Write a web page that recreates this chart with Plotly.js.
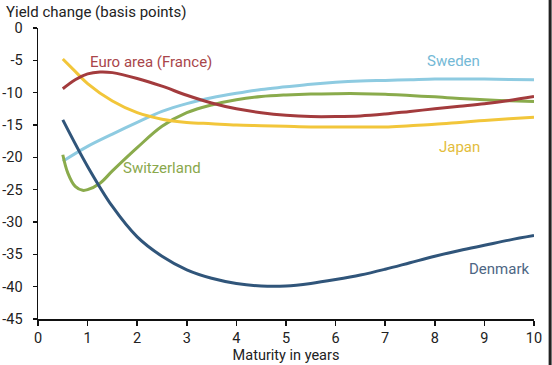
<!DOCTYPE html>
<html>
<head>
<meta charset="utf-8">
<script src="https://cdn.plot.ly/plotly-3.0.1.min.js"></script>
<style>html,body{margin:0;padding:0;background:#fff;}#chart{width:552px;height:365px;}</style>
</head>
<body>
<div id="chart"></div>
<script>
const maturityEuro = [0.5, 0.75, 1, 1.25, 1.5, 2, 2.5, 3, 3.5, 4, 4.5, 5, 5.5, 6, 6.5, 7, 7.5, 8, 8.5, 9, 9.5, 10];
const euroArea = [-9.4, -8.0, -7.1, -6.8, -6.9, -7.8, -9.0, -10.4, -11.6, -12.5, -13.1, -13.5, -13.7, -13.7, -13.6, -13.3, -12.9, -12.5, -12.1, -11.7, -11.2, -10.6];

const maturityJapan = [0.5, 0.75, 1, 1.5, 2, 2.5, 3, 3.5, 4, 4.5, 5, 5.5, 6, 6.5, 7, 7.5, 8, 8.5, 9, 9.5, 10];
const japan = [-4.8, -6.7, -8.6, -11.3, -13.1, -14.1, -14.6, -14.8, -15.0, -15.1, -15.2, -15.3, -15.3, -15.3, -15.3, -15.1, -14.9, -14.6, -14.3, -14.05, -13.8];

const maturitySweden = [0.5, 1, 1.5, 2, 2.5, 3, 3.5, 4, 4.5, 5, 5.5, 6, 6.5, 7, 7.5, 8, 8.5, 9, 9.5, 10];
const sweden = [-20.6, -18.3, -16.4, -14.6, -12.9, -11.7, -10.8, -10.1, -9.5, -9.1, -8.7, -8.4, -8.2, -8.1, -8.0, -7.9, -7.9, -7.9, -7.95, -8.0];

const maturitySwiss = [0.5, 0.6, 0.75, 0.9, 1, 1.25, 1.5, 2, 2.5, 3, 3.5, 4, 4.5, 5, 5.5, 6, 6.5, 7, 7.5, 8, 8.5, 9, 9.5, 10];
const switzerland = [-19.6, -22.4, -24.5, -25.1, -25.0, -24.0, -22.1, -18.5, -15.2, -13.1, -11.9, -11.1, -10.6, -10.35, -10.2, -10.15, -10.15, -10.25, -10.45, -10.65, -10.9, -11.1, -11.25, -11.35];

const maturityDenmark = [0.5, 1, 1.5, 2, 2.5, 3, 3.5, 4, 4.5, 5, 5.5, 6, 6.5, 7, 7.5, 8, 8.5, 9, 9.5, 10];
const denmark = [-14.2, -21.4, -27.6, -32.3, -35.3, -37.4, -38.7, -39.5, -39.9, -39.9, -39.5, -38.9, -38.2, -37.3, -36.3, -35.3, -34.4, -33.6, -32.8, -32.1];

const xTicks = [0, 1, 2, 3, 4, 5, 6, 7, 8, 9, 10];
const yTicks = [0, -5, -10, -15, -20, -25, -30, -35, -40, -45];

const colors = {
  euro: '#a33b3d', japan: '#f2c63a', sweden: '#8ecbe1', swiss: '#8aab4c', denmark: '#30557a'
};

const mk = (x, y, c) => ({x: x, y: y, type: 'scatter', mode: 'lines',
  line: {color: c, width: 3, shape: 'spline', smoothing: 1}, hoverinfo: 'skip'});

const data = [
  mk(maturitySweden, sweden, colors.sweden),
  mk(maturitySwiss, switzerland, colors.swiss),
  mk(maturityJapan, japan, colors.japan),
  mk(maturityEuro, euroArea, colors.euro),
  mk(maturityDenmark, denmark, colors.denmark)
];

const lab = (t, x, y, c) => ({text: t, x: x, y: y, xref: 'x', yref: 'y', showarrow: false,
  font: {family: 'Roboto, Arial, sans-serif', size: 15, color: c}});

const layout = {
  width: 552, height: 365,
  margin: {l: 38, r: 18, t: 28, b: 46},
  paper_bgcolor: '#ffffff', plot_bgcolor: '#ffffff',
  showlegend: false,
  font: {family: 'Roboto, Arial, sans-serif', size: 14, color: '#222'},
  xaxis: {
    range: [0, 10], tickvals: xTicks, ticktext: xTicks.map(String),
    showgrid: false, zeroline: false, showline: true, linecolor: '#111', linewidth: 1.5,
    ticks: 'outside', ticklen: 5, tickcolor: '#111', tickwidth: 1.5,
    tickfont: {size: 14.5, color: '#222'},
    title: {text: 'Maturity in years', font: {size: 14.5, color: '#222'}, standoff: 2}
  },
  yaxis: {
    range: [-45, 0], tickvals: yTicks, ticktext: yTicks.map(String),
    showgrid: false, zeroline: false, showline: true, linecolor: '#111', linewidth: 1.5,
    ticks: 'outside', ticklen: 4, tickcolor: '#111', tickwidth: 1.5,
    ticklabelstandoff: 7,
    tickfont: {size: 14.5, color: '#222'}
  },
  annotations: [
    {text: 'Yield change (basis points)', xref: 'paper', yref: 'paper', x: -0.068, y: 1.055,
     xanchor: 'left', yanchor: 'middle', showarrow: false, font: {size: 15, color: '#222'}},
    lab('Euro area (France)', 2.27, -5.2, '#a9464a'),
    lab('Switzerland', 2.5, -21.6, '#8aa84c'),
    lab('Sweden', 8.37, -5.1, '#74b9d6'),
    lab('Japan', 8.5, -18.4, '#e3bd3c'),
    lab('Denmark', 9.29, -37.3, '#4d6684')
  ],
  shapes: [
    {type: 'line', xref: 'paper', yref: 'paper', x0: 1.0325, x1: 1.0325, y0: -0.16, y1: 1.1,
     line: {color: '#222', width: 3}}
  ]
};

Plotly.newPlot('chart', data, layout, {staticPlot: true, displayModeBar: false});
</script>
</body>
</html>
